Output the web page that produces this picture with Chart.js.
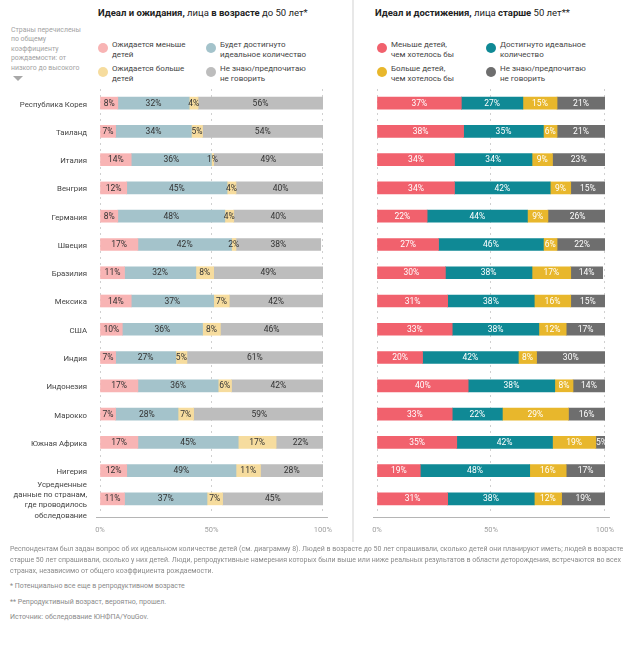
<!DOCTYPE html>
<html>
<head>
<meta charset="utf-8">
<script src="https://cdn.jsdelivr.net/npm/chart.js@4.4.1/dist/chart.umd.min.js"></script>
<style>
    body { margin: 0; background: #fff; font-family: Roboto, "Noto Sans", sans-serif; }
    #page { position: relative; width: 627px; height: 645px; overflow: hidden; }
    .abs { position: absolute; }
    .title { top: 7px; font-size: 9.5px; color: #222; white-space: nowrap; }
    .note { left: 11px; top: 26px; font-size: 6.9px; line-height: 9.4px; color: #a3a3a3; white-space: nowrap; }
    .tri { left: 13px; top: 76px; width: 0; height: 0; border-left: 5px solid transparent; border-right: 5px solid transparent; border-top: 5px solid #a8a8a8; }
    .lg { font-size: 8px; line-height: 10px; color: #444; white-space: nowrap; }
    .dot { width: 10px; height: 10px; border-radius: 50%; }
    .divider { left: 352px; top: 0; width: 2px; height: 542px; background: #e8e8e8; }
    .foot { left: 10px; font-size: 7px; line-height: 11px; color: #8a8a8a; white-space: nowrap; }
</style>
</head>
<body>
<div id="page">
    <div class="abs title" style="left:98px"><b>Идеал и ожидания,</b> лица <b>в возрасте</b> до 50 лет*</div>
    <div class="abs title" style="left:375px"><b>Идеал и достижения,</b> лица <b>старше</b> 50 лет**</div>

    <div class="abs note">Страны перечислены<br>по общему<br>коэффициенту<br>рождаемости: от<br>низкого до высокого</div>
    <div class="abs tri"></div>

    <div id="legendLeft"></div>
    <div id="legendRight"></div>

    <div class="abs divider"></div>

    <canvas id="chartLeft" class="abs" style="left:0; top:80px; width:345px; height:465px;"></canvas>
    <canvas id="chartRight" class="abs" style="left:355px; top:80px; width:272px; height:465px;"></canvas>

    <div class="abs foot" style="top:544px">Респондентам был задан вопрос об их идеальном количестве детей (см. диаграмму 8). Людей в возрасте до 50 лет спрашивали, сколько детей они планируют иметь; людей в возрасте<br>старше 50 лет спрашивали, сколько у них детей. Люди, репродуктивные намерения которых были выше или ниже реальных результатов в области деторождения, встречаются во всех<br>странах, независимо от общего коэффициента рождаемости.</div>
    <div class="abs foot" style="top:581px">* Потенциально все еще в репродуктивном возрасте</div>
    <div class="abs foot" style="top:597px">** Репродуктивный возраст, вероятно, прошел.</div>
    <div class="abs foot" style="top:612px">Источник: обследование ЮНФПА/YouGov.</div>
</div>

<script>
const countries = [
    'Республика Корея', 'Таиланд', 'Италия', 'Венгрия', 'Германия', 'Швеция', 'Бразилия',
    'Мексика', 'США', 'Индия', 'Индонезия', 'Марокко', 'Южная Африка', 'Нигерия',
    ['Усредненные', 'данные по странам,', 'где проводилось', 'обследование']
];

// до 50 лет
const under50Fewer   = [8, 7, 14, 12, 8, 17, 11, 14, 10, 7, 17, 7, 17, 12, 11];
const under50Ideal   = [32, 34, 36, 45, 48, 42, 32, 37, 36, 27, 36, 28, 45, 49, 37];
const under50More    = [4, 5, 1, 4, 4, 2, 8, 7, 8, 5, 6, 7, 17, 11, 7];
const under50Unknown = [56, 54, 49, 40, 40, 38, 49, 42, 46, 61, 42, 59, 22, 28, 45];

// старше 50 лет
const over50Fewer   = [37, 38, 34, 34, 22, 27, 30, 31, 33, 20, 40, 33, 35, 19, 31];
const over50Ideal   = [27, 35, 34, 42, 44, 46, 38, 38, 38, 42, 38, 22, 42, 48, 38];
const over50More    = [15, 6, 9, 9, 9, 6, 17, 16, 12, 8, 8, 29, 19, 16, 12];
const over50Unknown = [21, 21, 23, 15, 26, 22, 14, 15, 17, 30, 14, 16, 5, 17, 19];

const xTicks = [0, 50, 100];

const legendLeftLabels = ['Ожидается меньше<br>детей', 'Будет достигнуто<br>идеальное количество', 'Ожидается больше<br>детей', 'Не знаю/предпочитаю<br>не говорить'];
const legendRightLabels = ['Меньше детей,<br>чем хотелось бы', 'Достигнуто идеальное<br>количество', 'Больше детей,<br>чем хотелось бы', 'Не знаю/предпочитаю<br>не говорить'];

const leftColors = ['#f8b4b4', '#a4c3cb', '#f6dc9e', '#bdbdbd'];
const rightColors = ['#f1616d', '#0f8995', '#e8b72c', '#6e6e6e'];

function buildLegend(id, labels, colors, x0, x1) {
    const el = document.getElementById(id);
    const pos = [[x0, 48], [x1, 48], [x0, 72], [x1, 72]];
    el.innerHTML = labels.map((lab, i) => {
        const [cx, cy] = pos[i];
        return `<div class="abs dot" style="left:${cx - 5}px; top:${cy - 5}px; background:${colors[i]};"></div>
                <div class="abs lg" style="left:${cx + 9}px; top:${cy - 8}px;">${lab}</div>`;
    }).join('');
}
buildLegend('legendLeft', legendLeftLabels, leftColors, 103, 211);
buildLegend('legendRight', legendRightLabels, rightColors, 382, 491);

// подписи процентов в сегментах + базовая линия оси
const segmentLabels = {
    id: 'segmentLabels',
    afterDatasetsDraw(chart, args, opts) {
        const ctx = chart.ctx;
        ctx.save();
        ctx.font = '8.5px Roboto, "Noto Sans", sans-serif';
        ctx.textAlign = 'center';
        ctx.textBaseline = 'middle';
        ctx.fillStyle = opts.color;
        chart.data.datasets.forEach((ds, di) => {
            chart.getDatasetMeta(di).data.forEach((bar, i) => {
                const p = bar.getProps(['x', 'y', 'base'], true);
                ctx.fillText(ds.data[i] + '%', (p.x + p.base) / 2, p.y + 0.5);
            });
        });
        const a = chart.chartArea;
        ctx.strokeStyle = '#b5b5b5';
        ctx.lineWidth = 1;
        ctx.beginPath();
        ctx.moveTo(a.left - 4, a.bottom + 4.5);
        ctx.lineTo(a.right + 5, a.bottom + 4.5);
        ctx.stroke();
        ctx.restore();
    }
};

function makeDatasets(series, colors) {
    return series.map((data, i) => ({
        data: data,
        backgroundColor: colors[i],
        barThickness: 12
    }));
}

function makeChart(id, series, colors, labelColor, showLabels, yWidth, padRight) {
    return new Chart(document.getElementById(id), {
        type: 'bar',
        data: { labels: countries, datasets: makeDatasets(series, colors) },
        plugins: [segmentLabels],
        options: {
            indexAxis: 'y',
            responsive: false,
            animation: false,
            layout: { padding: { top: 9, left: 0, right: padRight, bottom: 0 } },
            plugins: {
                legend: { display: false },
                tooltip: { enabled: false },
                segmentLabels: { color: labelColor }
            },
            scales: {
                x: {
                    stacked: true,
                    min: 0,
                    max: 100,
                    afterBuildTicks: s => { s.ticks = xTicks.map(v => ({ value: v })); },
                    afterFit: s => { s.height = 32; },
                    ticks: {
                        callback: v => v + '%',
                        color: '#a0a0a0',
                        font: { size: 7.5, family: 'Roboto' },
                        padding: 13,
                        maxRotation: 0
                    },
                    grid: { color: '#d0d0d0', drawTicks: false },
                    border: { display: false, dash: [2, 4] }
                },
                y: {
                    stacked: true,
                    afterFit: s => {
                        s.width = yWidth;
                        s.paddingTop = 0;
                        s.paddingBottom = 0;
                    },
                    ticks: {
                        display: showLabels,
                        autoSkip: false,
                        color: '#444',
                        font: { size: 7.8, family: 'Roboto', lineHeight: 1.3 },
                        padding: 13,
                        labelOffset: 1.5
                    },
                    grid: { display: false, drawTicks: false },
                    border: { display: false }
                }
            }
        }
    });
}

makeChart('chartLeft',
    [under50Fewer, under50Ideal, under50More, under50Unknown],
    leftColors, '#333', true, 100, 15);

makeChart('chartRight',
    [over50Fewer, over50Ideal, over50More, over50Unknown],
    rightColors, '#fff', false, 22, 19);
</script>
</body>
</html>
